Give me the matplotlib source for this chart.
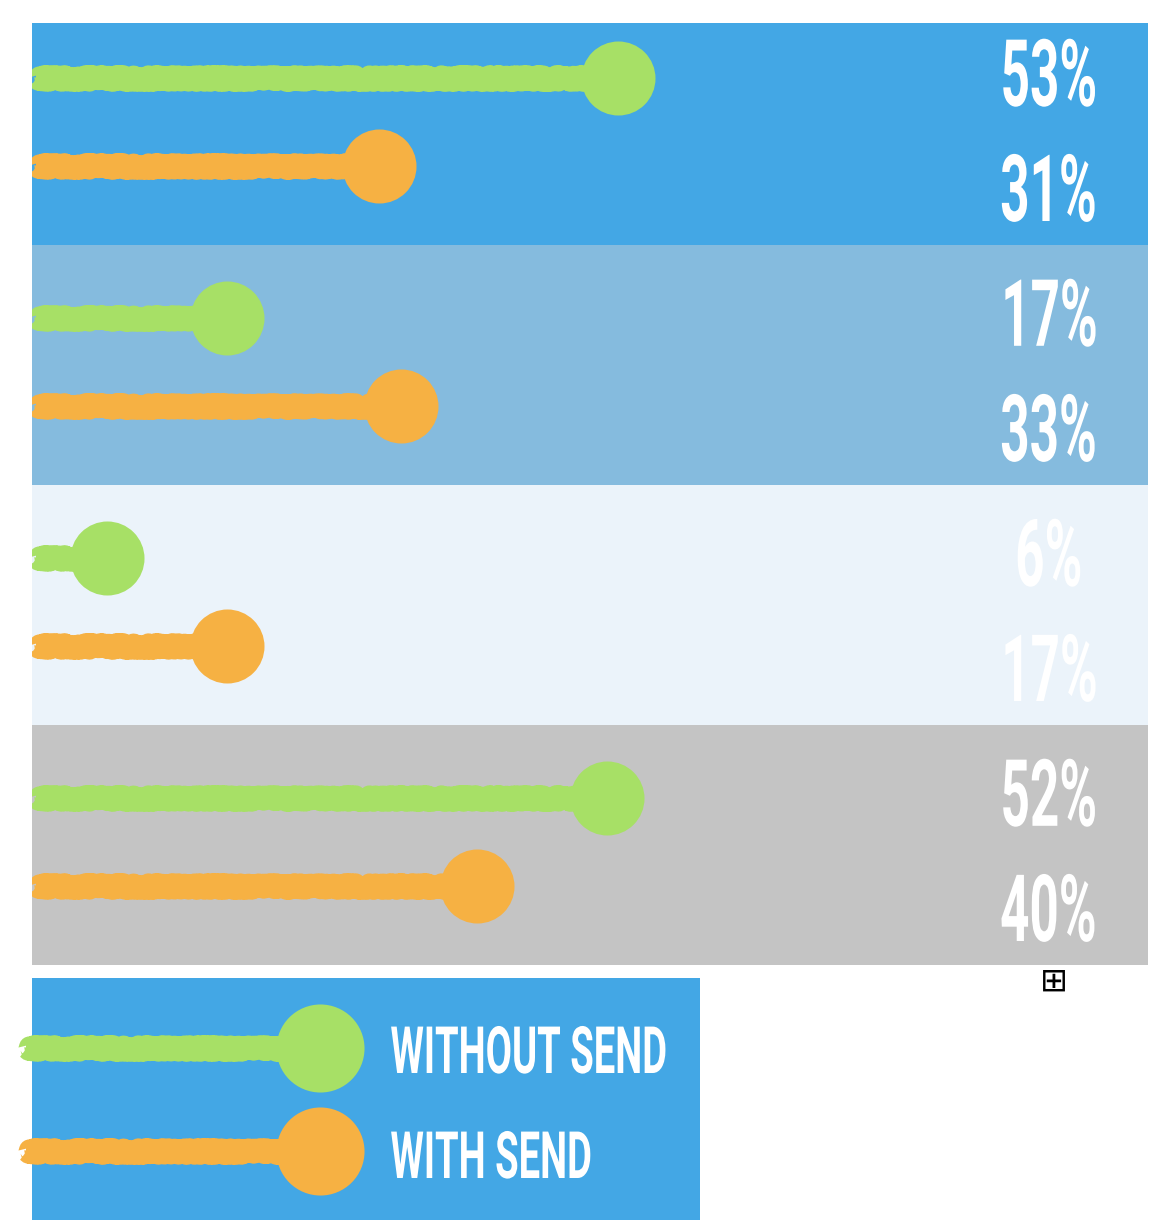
import matplotlib
matplotlib.use("Agg")
import matplotlib.pyplot as plt
from matplotlib import patheffects
from matplotlib.transforms import Affine2D

# data (top band first)
groups = ["A", "B", "C", "D"]
without_send = [53, 17, 6, 52]
with_send = [31, 33, 17, 40]
band_colors = ["#43a7e5", "#85bbde", "#ebf3fa", "#c4c4c4"]
series_names = ["WITHOUT SEND", "WITH SEND"]

GREEN = "#a7e066"
ORANGE = "#f6b143"
BLUE = "#43a7e5"


class Condense(patheffects.AbstractPathEffect):
    """squeeze glyphs horizontally (narrow poster font look)"""

    def __init__(self, sx, anchor="center"):
        super().__init__()
        self.sx = sx
        self.anchor = anchor

    def draw_path(self, renderer, gc, tpath, affine, rgbFace=None):
        ext = tpath.get_extents(affine)
        x0 = ext.x0 if self.anchor == "left" else (ext.x0 + ext.x1) / 2
        aff = affine + Affine2D().translate(-x0, 0).scale(self.sx, 1).translate(x0, 0)
        renderer.draw_path(gc, tpath, aff, rgbFace)


def fuzzy_stick(ax, x0, x1, y, color, lw, size, **kw):
    ax.plot([x0, x1], [y, y], color=color, lw=lw * 0.75, solid_capstyle="butt", zorder=2, **kw)
    ln, = ax.plot([x0, x1], [y, y], color=color, lw=lw, solid_capstyle="butt", zorder=2, **kw)
    ln.set_sketch_params(3, 4, 6)
    ax.scatter([x1], [y], s=size * 0.93, color=color, zorder=3, linewidths=0, **kw)
    dot = ax.scatter([x1], [y], s=size, color=color, zorder=3, linewidths=0, **kw)
    dot.set_sketch_params(2.5, 4, 6)


fig = plt.figure(figsize=(11.53, 12.25), dpi=100)
W, H = 1153, 1225

# main panel
ax = fig.add_axes([32 / W, (H - 965) / H, 1116 / W, 942 / H])
n = len(groups)
ax.set_xlim(-0.9, 101.7)
ax.set_ylim(0, n - 0.075)
ax.axis("off")

label_style = dict(color="white", fontsize=67, fontweight="bold", family=["Roboto", "DejaVu Sans"],
                   ha="center", va="baseline", path_effects=[Condense(0.55)])
tr = ax.get_yaxis_transform()

for i, g in enumerate(groups):
    base = n - 1 - i
    ax.axhspan(base, base + 1, color=band_colors[i], lw=0, zorder=0)
    fuzzy_stick(ax, -0.5, without_send[i], base + 0.695, GREEN, 15, 2840)
    fuzzy_stick(ax, -0.5, with_send[i], base + 0.33, ORANGE, 15, 2840)
    ax.text(0.911, base + 0.58, f"{without_send[i]}%", transform=tr, **label_style)
    ax.text(0.911, base + 0.10, f"{with_send[i]}%", transform=tr, **label_style)

# little expand icon under the panel
fig.text(1054 / W, 1 - 981 / H, "\u229e", fontsize=24, ha="center", va="center",
         family="DejaVu Sans", color="black")

# legend box
lax = fig.add_axes([32 / W, (H - 1220) / H, 668 / W, 242 / H])
lax.set_xlim(0, 668)
lax.set_ylim(0, 242)
lax.axis("off")
lax.add_patch(plt.Rectangle((0, 0), 668, 242, color=BLUE, lw=0, zorder=0))
leg_y = [242 - 173, 242 - 70][::-1]
leg_base = [147, 42]
for y, yb, c, name in zip(leg_y, leg_base, [GREEN, ORANGE], series_names):
    fuzzy_stick(lax, -6, 288, y, c, 15, 4020, clip_on=False)
    lax.text(358, yb, name, color="white", fontsize=47, fontweight="bold",
             family=["Roboto", "DejaVu Sans"], ha="left", va="baseline",
             path_effects=[Condense(0.585, anchor="left")])

fig.savefig("out.png", dpi=100)
